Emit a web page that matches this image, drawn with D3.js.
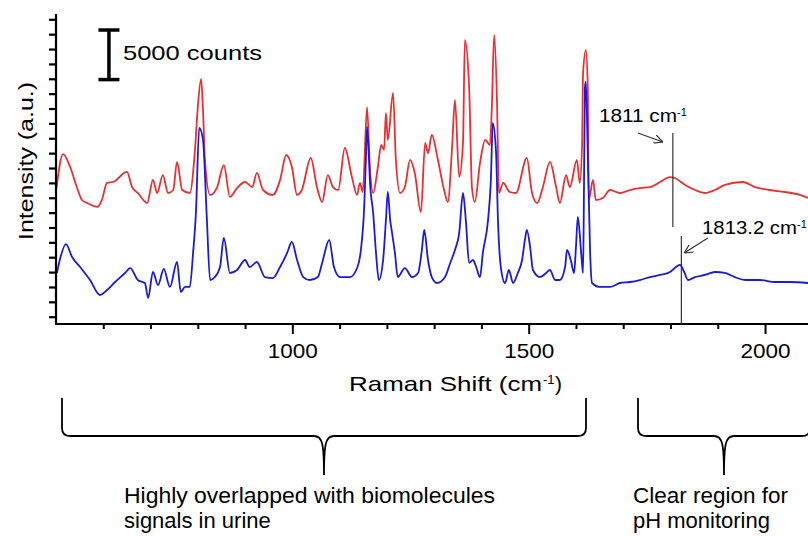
<!DOCTYPE html>
<html><head><meta charset="utf-8">
<script src="https://cdn.jsdelivr.net/npm/d3@7"></script>
<style>
body{margin:0;background:#fff}
svg{display:block;background:#fff}
text{font-family:"Liberation Sans",Arial,sans-serif;fill:#000}
</style>
</head><body>
<svg id="chart" width="808" height="536"></svg>
<script>
// ---- data (Raman shift in cm-1, intensity in counts) ----
const redShift=[501,515,530,544,555,566,587,597,608,621,650,661,673,693,705,714,726,737,748,756,767,783,794,800,807,811,815,826,841,855,868,883,900,915,925,938,959,974,987,999,1010,1020,1039,1052,1063,1075,1086,1097,1111,1126,1137,1143,1149,1158,1164,1171,1181,1188,1194,1198,1202,1213,1219,1228,1238,1249,1259,1272,1281,1287,1295,1308,1321,1329,1338,1344,1353,1361,1365,1374,1380,1386,1397,1408,1418,1422,1427,1433,1437,1446,1460,1473,1496,1507,1518,1530,1545,1558,1566,1579,1587,1602,1608,1613,1615,1621,1625,1627,1636,1642,1657,1672,1693,1714,1735,1757,1778,1799,1809,1831,1852,1873,1894,1915,1953,1979,2010,2042,2074,2091];
const redCounts=[12980,16410,15100,13080,11770,11470,11070,11770,13490,13590,14600,13080,12480,11470,13790,12480,14290,12480,12780,15610,12780,12480,16820,21150,23980,20850,15810,12280,13080,15300,12080,12980,13590,13080,14500,12780,12280,13790,16310,15100,12280,12780,16010,13080,11570,14290,13080,12780,17020,14090,12280,13490,12580,21150,15100,12480,15100,17320,16820,20550,17830,22570,15810,12480,13080,15810,14500,10560,17520,16510,18330,15810,12780,11570,17120,21860,14090,17520,27910,23170,12980,11570,15500,17830,17320,21050,28420,21560,12480,13490,12580,12480,16010,12480,11470,13080,15610,13080,11470,14290,13080,15810,13490,17520,24580,26900,23170,11770,13790,11770,11970,12780,12480,12780,12980,13080,13590,14090,13990,13290,12780,12480,12780,13290,13590,13080,12780,12580,12280,11970];
const blueShift=[502,508,521,534,551,572,593,608,625,646,657,673,688,695,705,716,728,741,756,764,773,783,790,796,803,811,819,826,836,847,855,868,883,900,910,925,942,959,974,989,999,1010,1023,1037,1054,1063,1078,1088,1101,1122,1137,1145,1152,1156,1158,1162,1164,1171,1177,1183,1192,1198,1202,1207,1211,1217,1223,1238,1253,1266,1274,1279,1287,1295,1306,1323,1334,1344,1353,1361,1367,1374,1382,1389,1397,1403,1414,1420,1424,1431,1435,1441,1450,1458,1467,1477,1486,1492,1496,1503,1509,1524,1537,1545,1556,1566,1577,1581,1589,1596,1600,1604,1611,1615,1617,1619,1621,1625,1630,1634,1651,1672,1693,1714,1735,1757,1778,1799,1809,1820,1829,1837,1852,1873,1894,1915,1936,1958,1989,2021,2053,2091];
const blueCounts=[4410,5720,7330,6020,5010,3700,2190,2690,3500,4410,4910,3700,3400,1890,4510,3200,4810,3000,5520,2490,3000,3000,6430,10460,19040,17830,10060,3700,4000,5010,7940,4410,4710,5720,5010,5520,4000,3900,5010,6430,7540,5720,4000,3700,4000,5420,7740,5010,4000,4000,4910,6730,11070,16510,19140,16110,13790,10460,6430,3700,5720,9750,12580,9750,8440,6430,4000,4910,4000,4410,6730,8750,5720,4000,3400,4000,5420,6730,8440,12480,9750,5420,5720,5010,4000,6430,9750,13790,19540,16510,9750,5010,3400,4710,3400,4410,5720,7740,8750,7030,4710,4000,4410,4710,3700,3700,5010,6730,5720,4410,7030,10060,6430,4410,13080,23170,23680,16510,6430,3400,3000,3000,3400,3500,3700,4000,4210,4510,4910,5220,4510,3700,4000,4210,4510,4410,4000,3700,3700,3500,3500,3400];
const yTickValues=d3.range(0,30001,1500);
const xMinorTicks=d3.range(600,2100,100);
const xMajorTicks=[1000,1500,2000];
const scaleBarCounts=5000;
const scaleBarLabel="5000 counts";
const redMarkShift=1805, redMarkTop=18530, redMarkBottom=9050;
const blueMarkShift=1823, blueMarkTop=8140;
const redMarkLabel="1811 cm", blueMarkLabel="1813.2 cm", sup="-1";
const regionLeft=["Highly overlapped with biomolecules","signals in urine"];
const regionRight=["Clear region for","pH monitoring"];

const svg=d3.select("#chart");
const x=d3.scaleLinear().domain([500,2100]).range([56,812.3]);
const y=d3.scaleLinear().domain([-736,30535]).range([324,14]);

// defs: arrow marker
const defs=svg.append("defs");
defs.append("marker").attr("id","arr").attr("viewBox","0 0 10 10")
  .attr("refX",10).attr("refY",5).attr("markerWidth",9).attr("markerHeight",9)
  .attr("markerUnits","userSpaceOnUse").attr("orient","auto")
  .append("path").attr("d","M0,0 L10,5 L0,10").attr("fill","none").attr("stroke","#333").attr("stroke-width",1.3);

// lines
const line=d3.line().curve(d3.curveMonotoneX).x(d=>x(d[0])).y(d=>y(d[1]));
const redData=redShift.map((s,i)=>[s,redCounts[i]]);
const blueData=blueShift.map((s,i)=>[s,blueCounts[i]]);
svg.append("path").datum(redData).attr("d",line).attr("fill","none")
  .attr("stroke","#ea2f33").attr("stroke-width",1.8).attr("stroke-linejoin","round");
svg.append("path").datum(blueData).attr("d",line).attr("fill","none")
  .attr("stroke","#1a1ad8").attr("stroke-width",1.8).attr("stroke-linejoin","round");

// axes
const yAxis=d3.axisLeft(y).tickValues(yTickValues).tickSize(7).tickSizeOuter(0).tickFormat("");
const gy=svg.append("g").attr("transform","translate(56,0)").call(yAxis);
gy.select(".domain").attr("d","M0,14V324").attr("stroke-width",2.2);
gy.selectAll(".tick line").attr("stroke-width",2.2);

const gxMinor=svg.append("g").attr("transform","translate(0,324)")
  .call(d3.axisBottom(x).tickValues(xMinorTicks.filter(v=>!xMajorTicks.includes(v))).tickSize(5).tickSizeOuter(0).tickFormat(""));
gxMinor.select(".domain").attr("d","M55,0H808").attr("stroke-width",2.2);
gxMinor.selectAll(".tick line").attr("stroke-width",2);
const gxMajor=svg.append("g").attr("transform","translate(0,324)")
  .call(d3.axisBottom(x).tickValues(xMajorTicks).tickSize(10).tickSizeOuter(0).tickFormat(d3.format("d")));
gxMajor.select(".domain").remove();
gxMajor.selectAll(".tick line").attr("stroke-width",2);
gxMajor.selectAll(".tick text").attr("y",33.7).attr("dy",0).attr("font-size",21)
  .attr("textLength",50).attr("lengthAdjust","spacingAndGlyphs")
  .style("font-family","'Liberation Sans',Arial,sans-serif").attr("fill","#000");

// axis titles
svg.append("text").attr("transform","translate(33,161) rotate(-90)").attr("text-anchor","middle")
  .attr("font-size",21).attr("textLength",158).attr("lengthAdjust","spacingAndGlyphs").text("Intensity (a.u.)");
svg.append("text").attr("x",349).attr("y",391).attr("font-size",21)
  .attr("textLength",193).attr("lengthAdjust","spacingAndGlyphs").text("Raman Shift (cm");
svg.append("text").attr("x",543).attr("y",384).attr("font-size",13).text(sup);
svg.append("text").attr("x",555).attr("y",391).attr("font-size",21).text(")");

// scale bar
const sbx=x(612), sbTop=y(23920+scaleBarCounts), sbBot=y(23920);
const sb=svg.append("g").attr("stroke","#000").attr("stroke-width",3.5);
sb.append("line").attr("x1",sbx).attr("x2",sbx).attr("y1",sbTop).attr("y2",sbBot);
sb.append("line").attr("x1",sbx-10.5).attr("x2",sbx+10.5).attr("y1",sbTop).attr("y2",sbTop);
sb.append("line").attr("x1",sbx-10.5).attr("x2",sbx+10.5).attr("y1",sbBot).attr("y2",sbBot);
svg.append("text").attr("x",123).attr("y",60).attr("font-size",21)
  .attr("textLength",139).attr("lengthAdjust","spacingAndGlyphs").text(scaleBarLabel);

// peak markers
const mk=svg.append("g").attr("stroke","#333").attr("stroke-width",1.2);
mk.append("line").attr("x1",x(redMarkShift)).attr("x2",x(redMarkShift)).attr("y1",y(redMarkTop)).attr("y2",y(redMarkBottom));
mk.append("line").attr("x1",x(blueMarkShift)).attr("x2",x(blueMarkShift)).attr("y1",y(blueMarkTop)).attr("y2",324);
mk.append("line").attr("x1",x(1731)).attr("y1",y(18530)).attr("x2",x(1784)).attr("y2",y(17620)).attr("marker-end","url(#arr)");
mk.append("line").attr("x1",x(1879)).attr("y1",y(7940)).attr("x2",x(1829)).attr("y2",y(6430)).attr("marker-end","url(#arr)");
svg.append("text").attr("x",599).attr("y",122).attr("font-size",18)
  .attr("textLength",78).attr("lengthAdjust","spacingAndGlyphs").text(redMarkLabel);
svg.append("text").attr("x",677).attr("y",116).attr("font-size",11).text(sup);
svg.append("text").attr("x",702).attr("y",234).attr("font-size",18)
  .attr("textLength",95).attr("lengthAdjust","spacingAndGlyphs").text(blueMarkLabel);
svg.append("text").attr("x",797).attr("y",228).attr("font-size",11).text(sup);

// braces
const br=svg.append("g").attr("fill","none").attr("stroke","#000").attr("stroke-width",1.8);
br.append("path").attr("d","M62,398 L62,428 Q62,436 70,436 L314,436 C322,436 324,442 324,475 C324,442 326,436 334,436 L578,436 Q586,436 586,428 L586,398");
br.append("path").attr("d","M638,398 L638,428 Q638,436 646,436 L714,436 C722,436 724,442 724,475 C724,442 726,436 734,436 L802,436 Q810,436 810,428 L810,398");

// region labels
svg.append("text").attr("x",124).attr("y",503).attr("font-size",22)
  .attr("textLength",371).attr("lengthAdjust","spacingAndGlyphs").text(regionLeft[0]);
svg.append("text").attr("x",124).attr("y",528).attr("font-size",22).text(regionLeft[1]);
svg.append("text").attr("x",633).attr("y",503).attr("font-size",22)
  .attr("textLength",155).attr("lengthAdjust","spacingAndGlyphs").text(regionRight[0]);
svg.append("text").attr("x",633).attr("y",528).attr("font-size",22).text(regionRight[1]);
</script>
</body></html>
